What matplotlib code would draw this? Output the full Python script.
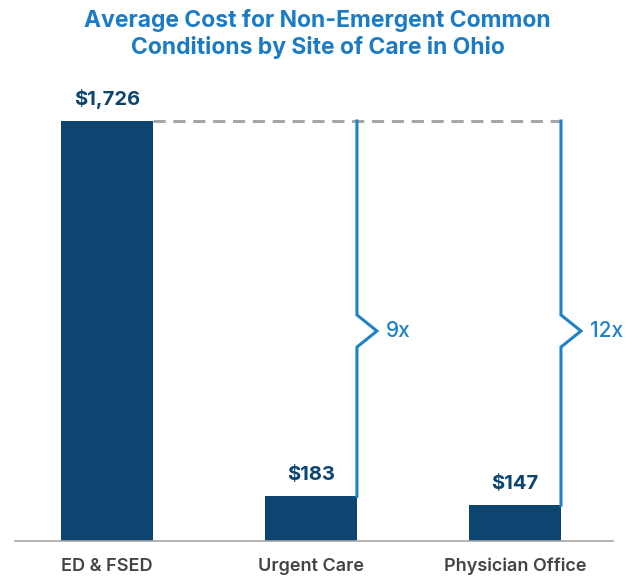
import matplotlib
matplotlib.use("Agg")
import matplotlib.pyplot as plt

plt.rcParams['font.family'] = ['Inter', 'DejaVu Sans']

sites = ["ED & FSED", "Urgent Care", "Physician Office"]
costs = [1726, 183, 147]
cost_labels = ["$1,726", "$183", "$147"]
multiples = ["", "9x", "12x"]

navy = "#0b4570"
blue = "#1f82c9"

fig = plt.figure(figsize=(6.35, 5.76), dpi=100)
ax = fig.add_axes([15/635, 35/576, 598/635, 420/576])

x = list(range(len(sites)))
w = 0.45
ax.bar(x, costs, width=w, color=navy, zorder=2)
ax.set_xlim(-0.451, 2.48)
ax.set_ylim(0, costs[0])

for i, (c, lab) in enumerate(zip(costs, cost_labels)):
    ax.annotate(lab, (i, c), xytext=(0, 9), textcoords="offset points",
                ha="center", va="bottom", fontsize=14.5, fontweight="bold",
                color=navy, annotation_clip=False)

# dashed reference line at the ED level
top = costs[0]
ax.plot([w/2, 2 + w/2], [top, top], color="#a6a6a6", lw=2.2, ls=(0, (4, 2.5)),
         clip_on=False, zorder=1)

# brace lines
mid = top / 2
half = 66
dx = 0.098
for i in (1, 2):
    lx = i + w/2
    ax.plot([lx, lx, lx + dx, lx, lx],
            [top, mid + half, mid, mid - half, costs[i]],
            color=blue, lw=2.2, clip_on=False, zorder=3, solid_joinstyle="miter")
    ax.text(lx + dx + 0.045, mid, multiples[i], ha="left", va="center",
            fontsize=15, color=blue, fontweight="medium")

for s in ["top", "right", "left"]:
    ax.spines[s].set_visible(False)
ax.spines["bottom"].set_color("#a6a6a6")
ax.spines["bottom"].set_linewidth(1.2)
ax.set_yticks([])
ax.set_xticks(x)
ax.set_xticklabels(sites, fontsize=13, color="#444444", fontweight="semibold")
ax.tick_params(axis="x", length=0, pad=12)

fig.text(0.5, 1 - 34/576, "Average Cost for Non-Emergent Common\nConditions by Site of Care in Ohio",
         ha="center", va="center", fontsize=16.5, fontweight="bold", color="#1b7cc5",
         linespacing=1.2)

fig.savefig("out.png", dpi=100)
